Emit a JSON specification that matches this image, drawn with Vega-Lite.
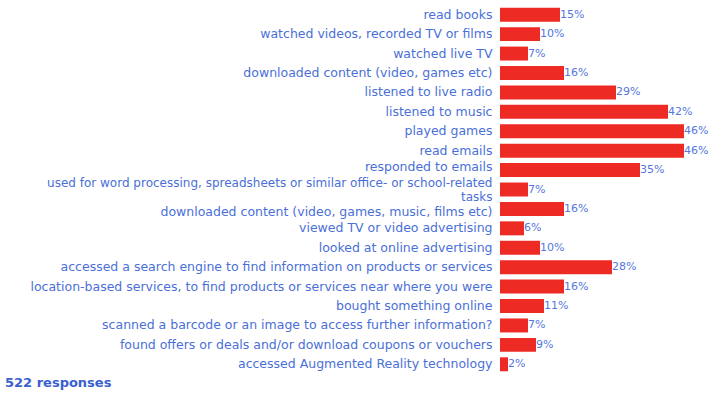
{
  "$schema": "https://vega.github.io/schema/vega-lite/v6.json",
  "width": 209,
  "height": 369,
  "autosize": {"type": "none"},
  "padding": {"left": 500, "top": 5, "right": 0, "bottom": 20},
  "background": "white",
  "config": {"view": {"stroke": null}},
  "title": {
    "text": "522 responses",
    "orient": "bottom",
    "anchor": "start",
    "frame": "group",
    "dx": -495,
    "offset": 3,
    "font": "DejaVu Sans",
    "fontSize": 13,
    "fontWeight": "bold",
    "color": "#3a5fd0"
  },
  "data": {
    "values": [
      {"label": "read books", "pct": 15},
      {"label": "watched videos, recorded TV or films", "pct": 10},
      {"label": "watched live TV", "pct": 7},
      {"label": "downloaded content (video, games etc)", "pct": 16},
      {"label": "listened to live radio", "pct": 29},
      {"label": "listened to music", "pct": 42},
      {"label": "played games", "pct": 46},
      {"label": "read emails", "pct": 46},
      {"label": "responded to emails", "pct": 35},
      {"label": "used for word processing, spreadsheets or similar office- or school-related|tasks", "pct": 7},
      {"label": "downloaded content (video, games, music, films etc)", "pct": 16},
      {"label": "viewed TV or video advertising", "pct": 6},
      {"label": "looked at online advertising", "pct": 10},
      {"label": "accessed a search engine to find information on products or services", "pct": 28},
      {"label": "location-based services, to find products or services near where you were", "pct": 16},
      {"label": "bought something online", "pct": 11},
      {"label": "scanned a barcode or an image to access further information?", "pct": 7},
      {"label": "found offers or deals and/or download coupons or vouchers", "pct": 9},
      {"label": "accessed Augmented Reality technology", "pct": 2}
    ]
  },
  "transform": [{"calculate": "datum.pct + '%'", "as": "pctText"}],
  "encoding": {
    "y": {
      "field": "label",
      "type": "nominal",
      "sort": null,
      "scale": {"paddingInner": 0.28, "paddingOuter": 0.14},
      "axis": {
        "title": null,
        "domain": false,
        "ticks": false,
        "labelPadding": 8,
        "labelLimit": 600,
        "labelFont": "DejaVu Sans",
        "labelFontSize": {"condition": {"test": "indexof(datum.value, '|') >= 0", "value": 12}, "value": 12.5},
        "labelLineHeight": 14.5,
        "labelColor": "#4a6fd8",
        "labelOffset": {"condition": [
          {"test": "indexof(datum.value, '|') >= 0", "value": -7},
          {"test": "datum.value == 'responded to emails'", "value": -3},
          {"test": "datum.value == 'downloaded content (video, games, music, films etc)'", "value": 3}
        ], "value": 0},
        "labelExpr": "split(datum.value, '|')"
      }
    },
    "x": {
      "field": "pct",
      "type": "quantitative",
      "scale": {"domain": [0, 52.25], "nice": false},
      "axis": null
    }
  },
  "layer": [
    {"mark": {"type": "bar", "color": "#ee2a24"}},
    {
      "mark": {"type": "text", "align": "left", "baseline": "middle", "dx": 0, "font": "DejaVu Sans", "fontSize": 11, "color": "#5577dd"},
      "encoding": {"text": {"field": "pctText", "type": "nominal"}}
    }
  ]
}
